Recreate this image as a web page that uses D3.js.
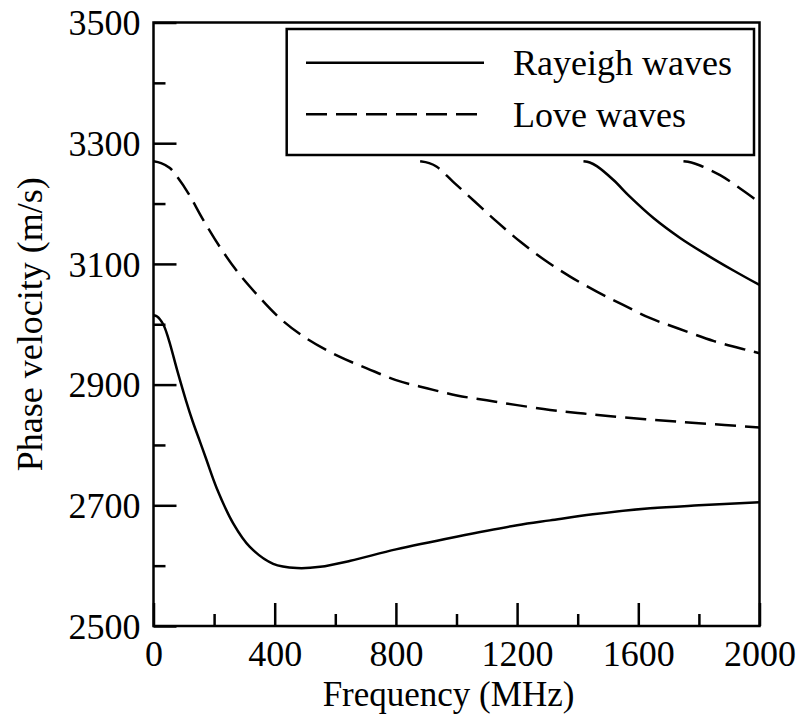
<!DOCTYPE html>
<html>
<head>
<meta charset="utf-8">
<script src="https://cdn.jsdelivr.net/npm/d3@7/dist/d3.min.js"></script>
<style>
  html, body { margin: 0; padding: 0; background: #fff; }
  svg { display: block; }
  text { font-family: "Liberation Serif", "Times New Roman", serif; fill: #000; }
</style>
</head>
<body>
<svg id="chart" width="800" height="726"></svg>
<script>
// Dispersion curves: [frequency (MHz), phase velocity (m/s)]
const rayleighMode0 = [[0,3015],[12,3013],[32,3000],[50,2975],[78,2924],[107,2874],[130,2838],[153,2806],[173,2778],[209,2728],[263,2670],[318,2631],[395,2603],[473,2596],[550,2598],[650,2608],[800,2627],[1000,2648],[1200,2667],[1309,2675],[1450,2685],[1639,2695],[1800,2700],[2000,2705]];
const rayleighMode1 = [[1419,3270],[1440,3268],[1463,3262],[1518,3239],[1573,3211],[1650,3176],[1738,3143],[1826,3115],[1914,3089],[2000,3065]];
const loveMode0 = [[0,3270],[25,3267],[54,3259],[80,3243],[115,3217],[164,3173],[219,3128],[277,3087],[340,3050],[417,3010],[500,2978],[610,2947],[704,2927],[803,2907],[902,2894],[1001,2882],[1100,2874],[1200,2866],[1309,2858],[1400,2853],[1500,2848],[1640,2842],[1800,2836],[2000,2829]];
const loveMode1 = [[880,3270],[910,3267],[935,3261],[989,3236],[1061,3203],[1133,3170],[1210,3137],[1292,3106],[1375,3079],[1463,3054],[1550,3032],[1640,3010],[1732,2993],[1850,2972],[1969,2956],[2000,2952]];
const loveMode2 = [[1749,3270],[1775,3268],[1804,3263],[1870,3247],[1936,3225],[1983,3208],[2000,3201]];

const xMajorTicks = [0, 400, 800, 1200, 1600, 2000];
const xMinorTicks = [200, 600, 1000, 1400, 1800];
const yMajorTicks = [2500, 2700, 2900, 3100, 3300, 3500];
const yMinorTicks = [2600, 2800, 3000, 3200, 3400];

const legendLabels = ["Rayeigh waves", "Love waves"];

const svg = d3.select("#chart");
const plotLeft = 153.5, plotRight = 759.5, plotTop = 22.5, plotBottom = 626;

const x = d3.scaleLinear().domain([0, 2000]).range([plotLeft, plotRight]);
const y = d3.scaleLinear().domain([2500, 3500]).range([plotBottom, plotTop]);

const SW = 2.5;
const FS = 36;

// clip for curves
svg.append("defs").append("clipPath").attr("id", "plot")
  .append("rect").attr("x", plotLeft).attr("y", plotTop)
  .attr("width", plotRight - plotLeft).attr("height", plotBottom - plotTop);

const line = d3.line().x(d => x(d[0])).y(d => y(d[1])).curve(d3.curveCatmullRom.alpha(0.5));

const curves = svg.append("g").attr("clip-path", "url(#plot)");
[
  [rayleighMode0, null],
  [rayleighMode1, null],
  [loveMode0, "21,9"],
  [loveMode1, "21,9"],
  [loveMode2, "21,9"]
].forEach(([data, dash]) => {
  curves.append("path")
    .attr("d", line(data))
    .attr("fill", "none")
    .attr("stroke", "#000")
    .attr("stroke-width", SW)
    .attr("stroke-dasharray", dash);
});

// bottom axis: ticks point inward
const xAxisMajor = d3.axisBottom(x).tickValues(xMajorTicks).tickSizeInner(-23).tickSizeOuter(0).tickFormat(d3.format("d"));
const gx = svg.append("g").attr("transform", `translate(0,${plotBottom})`).call(xAxisMajor);
gx.select(".domain").remove();
gx.selectAll("line").attr("stroke", "#000").attr("stroke-width", SW);
gx.selectAll("text").attr("font-size", FS).attr("font-family", "Liberation Serif").attr("dy", null).attr("y", 40);

const xAxisMinor = d3.axisBottom(x).tickValues(xMinorTicks).tickSizeInner(-12).tickSizeOuter(0).tickFormat("");
const gxm = svg.append("g").attr("transform", `translate(0,${plotBottom})`).call(xAxisMinor);
gxm.select(".domain").remove();
gxm.selectAll("line").attr("stroke", "#000").attr("stroke-width", SW);

// left axis: ticks point inward
const yAxisMajor = d3.axisLeft(y).tickValues(yMajorTicks).tickSizeInner(-23).tickSizeOuter(0).tickFormat(d3.format("d"));
const gy = svg.append("g").attr("transform", `translate(${plotLeft},0)`).call(yAxisMajor);
gy.select(".domain").remove();
gy.selectAll("line").attr("stroke", "#000").attr("stroke-width", SW);
gy.selectAll("text").attr("font-size", FS).attr("font-family", "Liberation Serif").attr("x", -13).attr("dy", "0.34em");

const yAxisMinor = d3.axisLeft(y).tickValues(yMinorTicks).tickSizeInner(-12).tickSizeOuter(0).tickFormat("");
const gym = svg.append("g").attr("transform", `translate(${plotLeft},0)`).call(yAxisMinor);
gym.select(".domain").remove();
gym.selectAll("line").attr("stroke", "#000").attr("stroke-width", SW);

// frame
svg.append("rect")
  .attr("x", plotLeft).attr("y", plotTop)
  .attr("width", plotRight - plotLeft).attr("height", plotBottom - plotTop)
  .attr("fill", "none").attr("stroke", "#000").attr("stroke-width", SW);

// axis titles
svg.append("text")
  .attr("x", (plotLeft + plotRight) / 2 - 8).attr("y", 706)
  .attr("text-anchor", "middle").attr("font-size", 35)
  .text("Frequency (MHz)");

svg.append("text")
  .attr("transform", `translate(42,${(plotTop + plotBottom) / 2}) rotate(-90)`)
  .attr("text-anchor", "middle").attr("font-size", FS)
  .text("Phase velocity (m/s)");

// legend
const lg = svg.append("g");
lg.append("rect")
  .attr("x", 286.7).attr("y", 29).attr("width", 754 - 286.7).attr("height", 155 - 29)
  .attr("fill", "#fff").attr("stroke", "#000").attr("stroke-width", SW);
const legendY = [62.7, 114.3];
const legendDash = [null, "21,9"];
legendLabels.forEach((label, i) => {
  lg.append("line")
    .attr("x1", 306).attr("x2", 484)
    .attr("y1", legendY[i]).attr("y2", legendY[i])
    .attr("stroke", "#000").attr("stroke-width", SW)
    .attr("stroke-dasharray", legendDash[i]);
  lg.append("text")
    .attr("x", 513).attr("y", legendY[i]).attr("dy", "0.34em")
    .attr("font-size", FS)
    .text(label);
});
</script>
</body>
</html>
